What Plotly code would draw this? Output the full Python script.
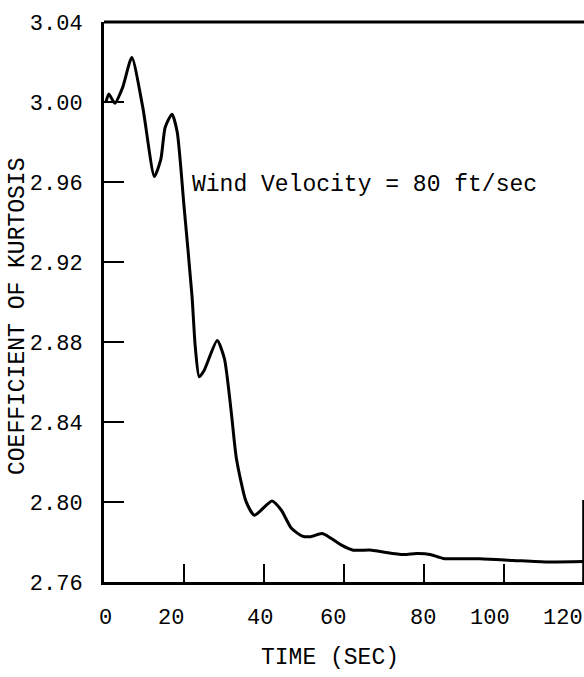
import plotly.graph_objects as go

# Data (time in seconds, coefficient of kurtosis)
time_sec = [0.5, 1.2, 2.7, 4.65, 6.95, 9.7, 12.6, 14.2, 15.3, 17.0, 18.3, 20.0,
            22.0, 22.8, 23.8, 25.0, 28.3, 30.1, 31.8, 33.1, 35.5, 37.6, 42.0,
            44.3, 46.8, 49.4, 51.5, 54.5, 56.5, 59.5, 62.3, 66.5, 69.8, 74.8,
            78.2, 81.5, 84.8, 94.0, 102.3, 110.8, 120.0]
kurtosis = [3.000, 3.004, 2.9994, 3.0072, 3.0222, 2.9973, 2.9628, 2.9713, 2.9874,
            2.9939, 2.985, 2.948, 2.903, 2.878, 2.8626, 2.8656, 2.8807, 2.8717,
            2.8452, 2.8218, 2.8003, 2.7934, 2.8005, 2.796, 2.787, 2.7831, 2.7826,
            2.7842, 2.7822, 2.7783, 2.7759, 2.776, 2.775, 2.7737, 2.7742, 2.7738,
            2.7718, 2.7716, 2.7708, 2.770, 2.7702]

y_ticks = [2.76, 2.80, 2.84, 2.88, 2.92, 2.96, 3.00, 3.04]
y_tick_labels = ["2.76", "2.80", "2.84", "2.88", "2.92", "2.96", "3.00", "3.04"]
x_ticks = [0, 20, 40, 60, 80, 100, 120]
x_tick_labels = ["0", "20", "40", "60", "80", "100", "120"]
# where the printed x labels actually sit on the original scan (data units)
x_label_at = [0.3, 16.7, 39.0, 57.3, 79.7, 96.5, 114.8]

annotation_text = "Wind Velocity = 80 ft/sec"
x_title = "TIME (SEC)"
y_title = "COEFFICIENT OF KURTOSIS"

FONT = "Liberation Mono"

fig = go.Figure()
fig.add_trace(go.Scatter(
    x=time_sec, y=kurtosis, mode="lines",
    line=dict(color="black", width=3, shape="spline", smoothing=0.6),
    showlegend=False, hoverinfo="skip",
))

fig.update_layout(
    width=584, height=677,
    margin=dict(l=104, r=0, t=22, b=95),
    paper_bgcolor="white", plot_bgcolor="white",
    font=dict(family=FONT, size=22, color="black"),
    showlegend=False,
)

fig.update_xaxes(
    range=[0, 120], tickvals=x_ticks[1:-1], showticklabels=False,
    ticks="inside", ticklen=18, tickwidth=2, tickcolor="black",
    showline=True, linecolor="black", linewidth=3, mirror=False,
    showgrid=False, zeroline=False,
)
fig.update_yaxes(
    range=[2.76, 3.04], tickvals=y_ticks, ticktext=y_tick_labels,
    ticks="inside", ticklen=20, tickwidth=2, tickcolor="black",
    ticklabelstandoff=14,
    showline=True, linecolor="black", linewidth=3, mirror=False,
    showgrid=False, zeroline=False,
    tickfont=dict(family=FONT, size=22, color="black"),
)

# top frame line
fig.add_shape(type="line", xref="paper", yref="paper", x0=0, x1=1, y0=1, y1=1,
              line=dict(color="black", width=3))
# partial right frame line visible at the scan edge
fig.add_shape(type="line", xref="x", yref="y", x0=119.8, x1=119.8, y0=2.76, y1=2.801,
              line=dict(color="black", width=2))

annotations = []
for lab, xp in zip(x_tick_labels, x_label_at):
    annotations.append(dict(x=xp, y=2.76, xref="x", yref="y", text=lab, showarrow=False,
                            xanchor="center", yanchor="top", yshift=-22,
                            font=dict(family=FONT, size=22, color="black")))
annotations.append(dict(x=21.5, y=2.9585, xref="x", yref="y", text=annotation_text,
                        showarrow=False, xanchor="left", yanchor="middle",
                        font=dict(family=FONT, size=23, color="black")))
annotations.append(dict(x=(330 - 104) / 480, y=-(658 - 582) / 560, xref="paper", yref="paper",
                        text=x_title, showarrow=False, xanchor="center", yanchor="middle",
                        font=dict(family=FONT, size=23, color="black")))
annotations.append(dict(x=(18 - 104) / 480, y=(582 - 317) / 560, xref="paper", yref="paper",
                        text=y_title, showarrow=False, textangle=-90,
                        xanchor="center", yanchor="middle",
                        font=dict(family=FONT, size=23, color="black")))
fig.update_layout(annotations=annotations)

fig.write_html(
    "out.html",
    config={"displayModeBar": False},
    post_script="document.body.style.margin='0';document.body.style.overflow='hidden';",
)
